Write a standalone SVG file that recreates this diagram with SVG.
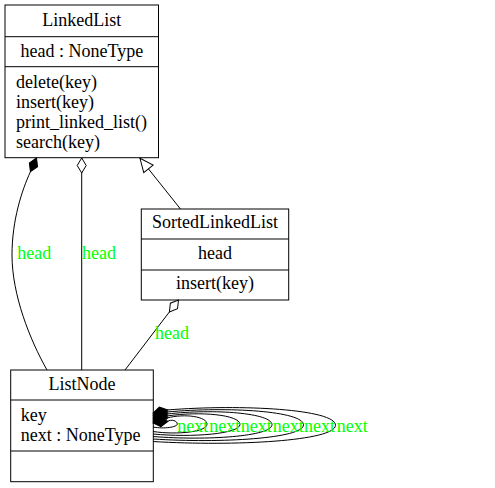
<svg xmlns="http://www.w3.org/2000/svg" width="495" height="488" viewBox="0 0 495 488">
<defs>
  <marker id="dFilled" markerUnits="userSpaceOnUse" viewBox="-1 -6 17 12" markerWidth="17" markerHeight="12" refX="0" refY="0" orient="auto">
    <polygon points="0,0 7.5,-4.5 15,0 7.5,4.5" fill="#000000" stroke="#000000" stroke-width="1"/>
  </marker>
  <marker id="dOpen" markerUnits="userSpaceOnUse" viewBox="-1 -6 17 12" markerWidth="17" markerHeight="12" refX="0" refY="0" orient="auto">
    <polygon points="0,0 7.5,-4.5 15,0 7.5,4.5" fill="#ffffff" stroke="#000000" stroke-width="1"/>
  </marker>
  <marker id="tri" markerUnits="userSpaceOnUse" viewBox="-15 -8 17 16" markerWidth="17" markerHeight="16" refX="0" refY="0" orient="auto">
    <polygon points="-13.5,-6 0,0 -13.5,6" fill="#ffffff" stroke="#000000" stroke-width="1"/>
  </marker>
</defs>
<rect width="495" height="488" fill="#ffffff"/>

<g font-family="Liberation Serif" font-size="18">
<g id="LinkedList">
  <g fill="#ffffff" stroke="#000000" stroke-width="1">
    <rect x="5" y="5" width="153.5" height="152.7"/>
    <line x1="5" y1="36.7" x2="158.5" y2="36.7"/>
    <line x1="5" y1="66.7" x2="158.5" y2="66.7"/>
  </g>
  <g fill="#000000">
    <text x="81.8" y="26" text-anchor="middle">LinkedList</text>
    <text x="81.8" y="56.7" text-anchor="middle">head : NoneType</text>
    <text x="16" y="87.5">delete(key)</text>
    <text x="16" y="107.5">insert(key)</text>
    <text x="16" y="127.5">print_linked_list()</text>
    <text x="16" y="147.5">search(key)</text>
  </g>
</g>

<g id="SortedLinkedList">
  <g fill="#ffffff" stroke="#000000" stroke-width="1">
    <rect x="141.3" y="209" width="147.4" height="91"/>
    <line x1="141.3" y1="239" x2="288.7" y2="239"/>
    <line x1="141.3" y1="270" x2="288.7" y2="270"/>
  </g>
  <g fill="#000000" text-anchor="middle">
    <text x="215" y="228.3">SortedLinkedList</text>
    <text x="215" y="259.3">head</text>
    <text x="215" y="289.3">insert(key)</text>
  </g>
</g>

<g id="ListNode">
  <g fill="#ffffff" stroke="#000000" stroke-width="1">
    <rect x="10.7" y="370" width="142.6" height="111.7"/>
    <line x1="10.7" y1="400" x2="153.3" y2="400"/>
    <line x1="10.7" y1="451" x2="153.3" y2="451"/>
  </g>
  <g fill="#000000">
    <text x="82" y="390" text-anchor="middle">ListNode</text>
    <text x="20.7" y="420.7">key</text>
    <text x="20.7" y="440.5">next : NoneType</text>
  </g>
</g>

<g id="edges">
  <g fill="none" stroke="#000000" stroke-width="1">
    <path id="e_LinkedList_ListNode_comp" marker-start="url(#dFilled)" d="M36.5,158 L30.4,171.8 C22,190 12,220 12,255 C12,295 30,340 47,370"/>
    <path id="e_LinkedList_ListNode_aggr" marker-start="url(#dOpen)" d="M81.7,158 L81.7,370"/>
    <path id="e_SortedLinkedList_LinkedList" marker-end="url(#tri)" d="M180.5,209 L140,158.3"/>
    <path id="e_SortedLinkedList_ListNode" marker-start="url(#dOpen)" d="M178.5,300 L125,370"/>
    <path marker-start="url(#dFilled)" d="M153,413 L167,410 C242.8,403.9 335.5,409.45 335.5,425.2 C335.5,440.95 235.1,446.5 153,441.5"/>
    <path marker-start="url(#dFilled)" d="M153,415 L167,412 C228.4,406.3 303.5,411.2 303.5,424.85 C303.5,438.5 220.7,443.4 153,439"/>
    <path marker-start="url(#dFilled)" d="M153,417 L167,414 C214.3,408.6 272,413 272,424.7 C272,436.4 206.6,440.8 153,436.5"/>
    <path marker-start="url(#dFilled)" d="M153,419 L167,416 C199.9,411 240,414.8 240,424.35 C240,433.9 192.2,437.7 153,434"/>
    <path marker-start="url(#dFilled)" d="M153,421 L167,418 C185,413.3 207,416.55 207,424.2 C207,431.85 177.3,435.1 153,431.5"/>
    <path marker-start="url(#dFilled)" d="M153,423 L167,421.5 C171.6,418.9 177.3,420.85 177.3,424 C177.3,427.15 163.9,429.1 153,427"/>
  </g>
  <g fill="#00ff00">
    <text x="17.3" y="259.3">head</text>
    <text x="82" y="259.3">head</text>
    <text x="155" y="338.5">head</text>
    <text x="177.3" y="431.5">next</text>
    <text x="209.3" y="431.5">next</text>
    <text x="240.7" y="431.5">next</text>
    <text x="272.7" y="431.5">next</text>
    <text x="304" y="431.5">next</text>
    <text x="336.7" y="431.5">next</text>
  </g>
</g>
</g>
</svg>
